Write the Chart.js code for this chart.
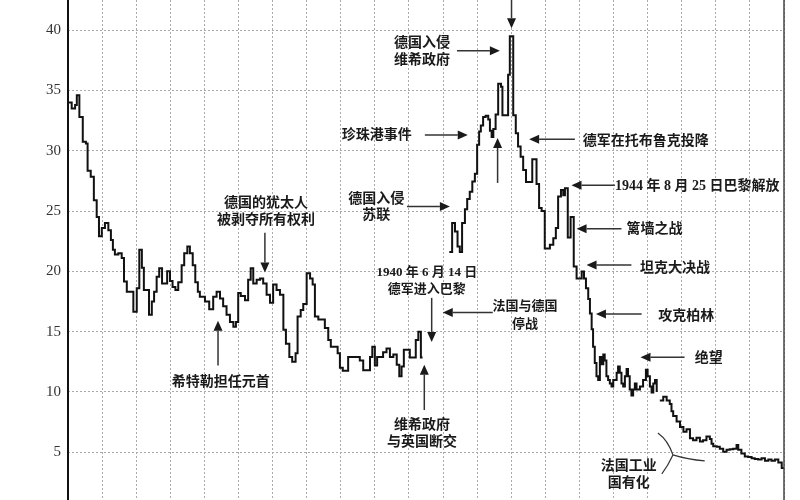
<!DOCTYPE html>
<html>
<head>
<meta charset="utf-8">
<script src="https://cdn.jsdelivr.net/npm/chart.js@4.4.1/dist/chart.umd.min.js"></script>
<style>
  html, body { margin: 0; padding: 0; background: #fff; }
</style>
</head>
<body>
<canvas id="chart" width="800" height="500"></canvas>
<script>
// months since the start of the series (one grid column = 12 months)
const months = [
  0, 1.3, 2.5, 3.1, 4.0, 5.2, 6.3, 6.9, 8.0, 9.1, 10.1, 10.9, 11.9, 13.0, 14.2, 15.1,
  15.8, 16.5, 17.7, 18.9, 19.7, 20.7, 23.0, 24.2, 25.1, 26.0, 26.7, 28.5, 29.5, 30.3,
  31.2, 32.1, 33.1, 34.9, 35.9, 36.8, 37.8, 38.8, 40.0, 40.9, 42.0, 42.9, 43.9, 44.8,
  45.7, 46.4, 48.2, 49.7, 51.1, 52.3, 53.5, 54.6, 55.8, 57.0, 58.2, 59.1, 59.9, 60.8,
  62.3, 63.4, 64.3, 65.2, 66.4, 67.6, 68.7, 69.9, 71.1, 72.2, 73.4, 74.6, 75.8, 76.7,
  77.9, 78.9, 80.1, 80.8, 81.9, 82.8, 84.0, 85.2, 86.1, 86.9, 88.1, 90.4, 91.6, 92.5,
  94.9, 95.7, 96.7, 98.6, 102.7, 103.9, 106.3, 107.1, 108.0, 108.8, 110.9, 112.1, 113.3,
  114.5, 115.7, 116.6, 117.4, 118.2, 120.3, 122.4, 123.3, 124.2, 124.8, 125,
  134.2, 135.2, 136.2, 137.1, 137.9, 138.7, 139.7, 140.5, 141.4, 142.3, 143.2, 144.0,
  144.7, 145.3, 146.1, 147.0, 147.9, 148.5, 149.1, 149.7, 150.5, 151.4, 152.4, 152.9,
  154.9, 155.5, 156.7, 157.6, 158.4, 159.3, 160.2, 161.2, 163.4, 164.9, 165.8, 166.7,
  167.8, 169.6, 170.8, 171.7, 172.5, 173.5, 174.3, 174.9, 175.9, 176.9, 178.0, 179.0,
  180.8, 181.6, 182.3, 183.1, 183.7, 184.3, 184.8, 185.4, 186.0, 186.6, 187.2, 187.8,
  188.4, 188.9, 189.5, 190.1, 190.7, 191.3, 191.9, 193.1, 193.6, 194.2, 194.8, 195.4,
  196.0, 196.6, 197.1, 197.7, 198.3, 198.9, 199.5, 200.1, 201.3, 202.4, 203.4, 204.0,
  204.8, 205.4, 206.0, 206.6, 207.2, 207.8,
  208.3, 209.5, 210.7, 211.8, 212.4, 213.0, 214.2, 215.4, 216.6, 217.7, 218.9, 220.0,
  221.2, 222.4, 223.5, 224.7, 225.9, 226.5, 227.1, 228.3, 229.4, 230.6, 231.8, 232.9,
  234.1, 235.3, 235.9, 237.0, 238.2, 239.4, 240.6, 241.7, 242.9, 244.1, 245.3, 246.5,
  247.6, 248.8, 250.0, 251.2, 252
];

// index level for each of the months above (null = break in the series)
const prices = [
  34.0, 33.5, 33.8, 34.6, 32.8, 30.75, 30.6, 28.35, 27.85, 25.9, 24.5, 22.9, 23.6, 24.0, 23.4, 22.6,
  21.8, 21.4, 21.5, 21.1, 19.15, 18.3, 16.65, 18.6, 21.8, 20.3, 18.45, 16.4, 17.5, 18.3,
  19.55, 20.25, 19.0, 20.0, 19.2, 18.7, 18.45, 19.1, 20.5, 21.5, 22.05, 21.5, 20.5, 19.1,
  18.3, 17.9, 17.5, 16.85, 17.9, 18.3, 17.75, 17.1, 16.4, 15.8, 15.4, 15.8, 18.2, 17.95,
  17.6, 19.3, 20.25, 19.0, 19.3, 19.4, 19.0, 18.05, 17.4, 18.9, 18.45, 18.05, 15.15, 14.0,
  12.9, 12.5, 13.2, 16.25, 16.8, 17.3, 19.85, 19.4, 18.9, 16.25, 16.0, 15.3, 14.3, 13.75,
  13.2, 12.0, 11.75, 12.9, 12.6, 11.8, 12.9, 13.75, 12.2, 12.9, 13.3, 13.6, 12.9,
  13.1, 12.25, 11.3, 12.1, 13.5, 12.85, 14.3, 15.0, 12.85, 12.85, null,
  21.6, 24.0, 23.3, 22.05, 21.6, 24.0, 25.15, 26.0, 26.6, 27.45, 28.1, 30.5,
  31.6, 32.1, 32.8, 32.9, 32.6, 31.65, 31.15, 31.8, 33.0, 35.55, 35.3, 32.95,
  36.3, 39.5, 32.95, 31.45, 30.35, 29.5, 28.4, 27.4, 29.3, 27.25, 25.25, 25.0,
  21.9, 22.2, 22.75, 23.6, 26.2, 26.75, 26.3, 26.9, 22.8, 24.5, 20.4, 19.4,
  19.98, 19.4, 18.6, 17.7, 16.5, 15.2, 13.75, 12.4, 11.3, 11.0, 12.9, 12.3,
  13.1, 12.6, 11.3, 11.0, 10.7, 10.45, 11.0, 11.6, 12.1, 11.6, 10.7, 10.45,
  11.3, 11.9, 11.3, 10.2, 9.7, 10.2, 10.7, 10.2, 10.45, 11.0, 11.85, 11.3,
  10.45, 9.95, 10.7, 11.0, 10.0, null,
  9.3, 9.6, 9.3, 9.0, 8.4, 8.0, 7.55, 7.1, 6.7, 6.9, 6.15, 6.0,
  6.2, 5.9, 6.0, 6.3, 6.1, 5.7, 5.5, 5.45, 5.3, 5.05, 5.2, 5.25,
  5.3, 5.6, 5.2, 4.9, 4.65, 4.6, 4.5, 4.45, 4.4, 4.5, 4.3, 4.4,
  4.3, 4.4, 4.15, 3.7, 3.7
];

const yTicks = [5, 10, 15, 20, 25, 30, 35, 40];

// event notes, placed in data units (month, level)
const notes = [
  { text: ['德国的犹太人', '被剥夺所有权利'], x: 69.7, y: [25.67, 24.26], align: 'center', arrow: [69.3, 23.2, 69.3, 19.9] },
  { text: ['希特勒担任元首'], x: 53.8, y: [10.83], align: 'center', arrow: [52.8, 12.2, 52.8, 15.9] },
  { text: ['1940 年 6 月 14 日', '德军进入巴黎'], x: 126.3, y: [19.87, 18.46], align: 'center', size: 13, arrow: [128.0, 17.8, 128.0, 14.15] },
  { text: ['维希政府', '与英国断交'], x: 124.6, y: [7.26, 5.85], align: 'center', arrow: [125.4, 8.5, 125.4, 12.25] },
  { text: ['法国与德国', '停战'], x: 160.8, y: [17.05, 15.56], align: 'center', size: 13, arrow: [149.5, 16.58, 131.9, 16.58] },
  { text: ['德国入侵', '维希政府'], x: 124.6, y: [38.94, 37.53], align: 'center', arrow: [136.9, 38.3, 152.0, 38.3] },
  { text: [], arrow: [156.1, 43.5, 156.1, 40.16] },
  { text: ['珍珠港事件'], x: 108.7, y: [31.31], align: 'center', arrow: [125.6, 31.31, 140.7, 31.31] },
  { text: [], arrow: [151.2, 27.33, 151.2, 31.06] },
  { text: ['德国入侵', '苏联'], x: 108.5, y: [26.0, 24.68], align: 'center', arrow: [119.3, 25.37, 134.4, 25.37] },
  { text: ['德军在托布鲁克投降'], x: 181.2, y: [30.75], align: 'left', arrow: [178.4, 30.95, 162.3, 30.95] },
  { text: ['1944 年 8 月 25 日巴黎解放'], x: 192.5, y: [27.08], align: 'left', arrow: [192.5, 27.14, 177.2, 27.14] },
  { text: ['篱墙之战'], x: 196.6, y: [23.49], align: 'left', arrow: [194.8, 23.54, 179.0, 23.54] },
  { text: ['坦克大决战'], x: 201.3, y: [20.26], align: 'left', arrow: [198.3, 20.53, 182.5, 20.53] },
  { text: ['攻克柏林'], x: 207.7, y: [16.24], align: 'left', arrow: [201.9, 16.47, 185.8, 16.47] },
  { text: ['绝望'], x: 220.6, y: [12.79], align: 'left', arrow: [217.0, 12.88, 201.5, 12.88] },
  { text: ['法国工业', '国有化'], x: 197.4, y: [3.81, 2.43], align: 'center' }
];

function drawArrow(ctx, x1, y1, x2, y2) {
  const ang = Math.atan2(y2 - y1, x2 - x1);
  const len = 10, half = 4.5;
  const bx = x2 - len * Math.cos(ang), by = y2 - len * Math.sin(ang);
  ctx.beginPath();
  ctx.moveTo(x1, y1);
  ctx.lineTo(bx, by);
  ctx.stroke();
  ctx.beginPath();
  ctx.moveTo(x2, y2);
  ctx.lineTo(bx + half * Math.sin(ang), by - half * Math.cos(ang));
  ctx.lineTo(bx - half * Math.sin(ang), by + half * Math.cos(ang));
  ctx.closePath();
  ctx.fill();
}

const notesPlugin = {
  id: 'notes',
  afterDraw(chart) {
    const { ctx, chartArea, scales: { x, y } } = chart;
    ctx.save();
    // frame: left axis and right edge
    ctx.strokeStyle = '#111';
    ctx.lineWidth = 2;
    ctx.beginPath();
    ctx.moveTo(chartArea.left, chartArea.top);
    ctx.lineTo(chartArea.left, chartArea.bottom);
    ctx.stroke();
    ctx.strokeStyle = '#444';
    ctx.lineWidth = 1.5;
    ctx.beginPath();
    ctx.moveTo(chartArea.right, chartArea.top);
    ctx.lineTo(chartArea.right, chartArea.bottom);
    ctx.stroke();

    ctx.fillStyle = '#1a1a1a';
    ctx.strokeStyle = '#333';
    ctx.lineWidth = 1.5;
    notes.forEach(n => {
      ctx.font = 'bold ' + (n.size || 14) + 'px "Liberation Serif", "Noto Sans CJK SC"';
      ctx.textAlign = n.align || 'center';
      ctx.textBaseline = 'middle';
      n.text.forEach((t, i) => {
        ctx.fillText(t, x.getPixelForValue(n.x), y.getPixelForValue(n.y[i]));
      });
      if (n.arrow) {
        const a = n.arrow;
        drawArrow(ctx, x.getPixelForValue(a[0]), y.getPixelForValue(a[1]),
                       x.getPixelForValue(a[2]), y.getPixelForValue(a[3]));
      }
    });

    // brace next to the nationalisation note
    ctx.lineWidth = 1.2;
    const p = (m, v) => [x.getPixelForValue(m), y.getPixelForValue(v)];
    const top = p(207.6, 6.6), apex = p(212.9, 4.78), bottom = p(209.0, 3.2), tail = p(224.1, 4.28);
    const c1 = p(211.2, 6.0), c2 = p(211.2, 3.9), c3 = p(218, 4.4);
    ctx.beginPath();
    ctx.moveTo(top[0], top[1]);
    ctx.quadraticCurveTo(c1[0], c1[1], apex[0], apex[1]);
    ctx.quadraticCurveTo(c2[0], c2[1], bottom[0], bottom[1]);
    ctx.moveTo(apex[0], apex[1]);
    ctx.quadraticCurveTo(c3[0], c3[1], tail[0], tail[1]);
    ctx.stroke();
    ctx.restore();
  }
};

const ctx = document.getElementById('chart').getContext('2d');

new Chart(ctx, {
  type: 'line',
  data: {
    datasets: [{
      data: months.map((m, i) => ({ x: m, y: prices[i] })),
      stepped: true,
      borderColor: '#111',
      borderWidth: 2,
      pointRadius: 0,
      fill: false,
      spanGaps: false
    }]
  },
  options: {
    responsive: false,
    animation: false,
    devicePixelRatio: 1,
    layout: { padding: { left: 0, right: 16, top: 0, bottom: 0 } },
    scales: {
      x: {
        type: 'linear',
        min: 0,
        max: 252,
        ticks: { display: false, stepSize: 12 },
        grid: { color: '#aaa', lineWidth: 1, drawTicks: false },
        border: { display: false, dash: [2, 2] },
        afterFit: scale => {
          scale.height = 0;
          scale.paddingLeft = 0;
          scale.paddingRight = 0;
        }
      },
      y: {
        min: 1.04,
        max: 42.5,
        afterBuildTicks: scale => { scale.ticks = yTicks.map(v => ({ value: v })); },
        afterFit: scale => {
          scale.width = 68;
          scale.paddingTop = 0;
          scale.paddingBottom = 0;
        },
        ticks: {
          color: '#333',
          padding: 7,
          font: { family: '"Liberation Serif", serif', size: 15 }
        },
        grid: { color: '#aaa', lineWidth: 1, drawTicks: false },
        border: { display: false, dash: [2, 2] }
      }
    },
    plugins: {
      legend: { display: false },
      tooltip: { enabled: false }
    }
  },
  plugins: [notesPlugin]
});
</script>
</body>
</html>
